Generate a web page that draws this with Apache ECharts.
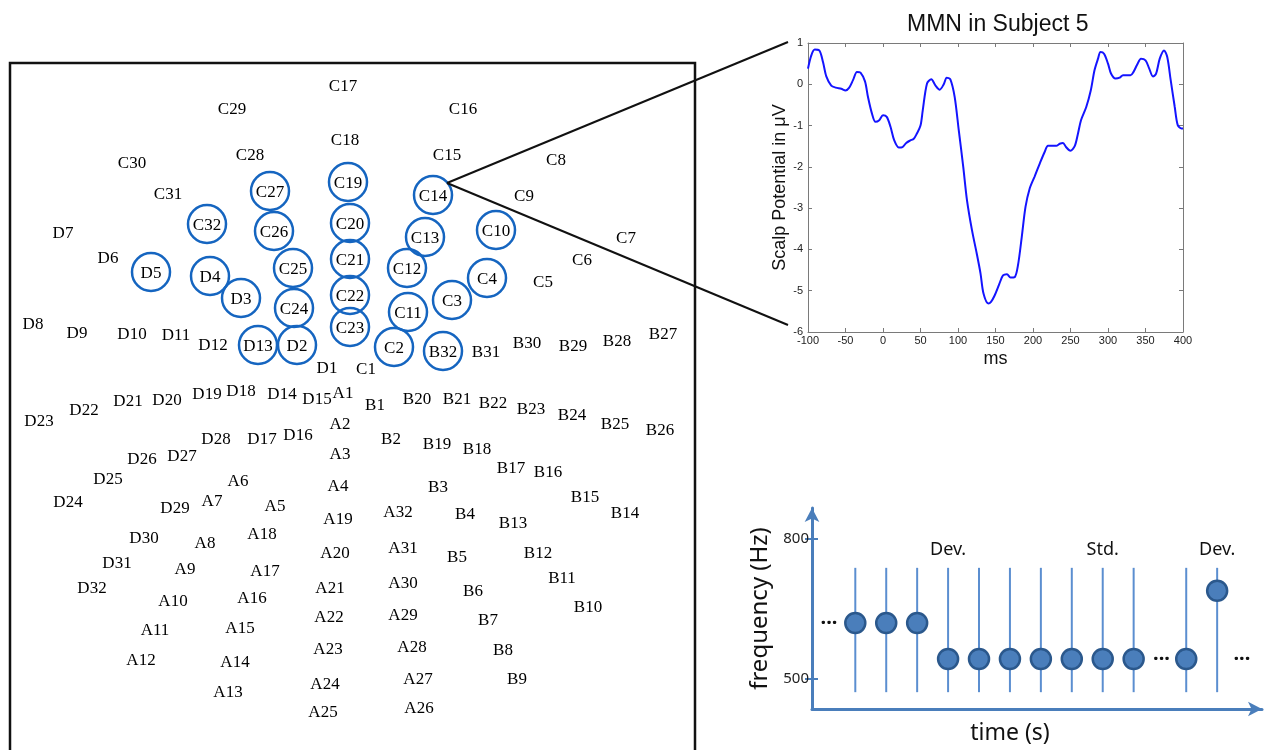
<!DOCTYPE html>
<html><head><meta charset="utf-8">
<script src="https://cdn.jsdelivr.net/npm/echarts@6/dist/echarts.min.js"></script>
<style>html,body{margin:0;padding:0;background:#fff}#c{width:1266px;height:750px}</style>
</head><body><div id="c"></div>
<script>
// ---------- Electrode layout (positions) ----------
const groupA_names = ['A1','A2','A3','A4','A5','A6','A7','A8','A9','A10','A11','A12','A13','A14','A15','A16','A17','A18','A19','A20','A21','A22','A23','A24','A25','A26','A27','A28','A29','A30','A31','A32'];
const groupA_x = [343,340,340,338,275,238,212,205,185,173,155,141,228,235,240,252,265,262,338,335,330,329,328,325,323,419,418,412,403,403,403,398];
const groupA_y = [392,423,453,485,505,480,500,542,568,600,629,659,691,661,627,597,570,533,518,552,587,616,648,683,711,707,678,646,614,582,547,511];

const groupB_names = ['B1','B2','B3','B4','B5','B6','B7','B8','B9','B10','B11','B12','B13','B14','B15','B16','B17','B18','B19','B20','B21','B22','B23','B24','B25','B26','B27','B28','B29','B30','B31','B32'];
const groupB_x = [375,391,438,465,457,473,488,503,517,588,562,538,513,625,585,548,511,477,437,417,457,493,531,572,615,660,663,617,573,527,486,443];
const groupB_y = [404,438,486,513,556,590,619,649,678,606,577,552,522,512,496,471,467,448,443,398,398,402,408,414,423,429,333,340,345,342,351,351];

const groupC_names = ['C1','C2','C3','C4','C5','C6','C7','C8','C9','C10','C11','C12','C13','C14','C15','C16','C17','C18','C19','C20','C21','C22','C23','C24','C25','C26','C27','C28','C29','C30','C31','C32'];
const groupC_x = [366,394,452,487,543,582,626,556,524,496,408,407,425,433,447,463,343,345,348,350,350,350,350,294,293,274,270,250,232,132,168,207];
const groupC_y = [368,347,300,278,281,259,237,159,195,230,312,268,237,195,154,108,85,139,182,223,259,295,327,308,268,231,191,154,108,162,193,224];

const groupD_names = ['D1','D2','D3','D4','D5','D6','D7','D8','D9','D10','D11','D12','D13','D14','D15','D16','D17','D18','D19','D20','D21','D22','D23','D24','D25','D26','D27','D28','D29','D30','D31','D32'];
const groupD_x = [327,297,241,210,151,108,63,33,77,132,176,213,258,282,317,298,262,241,207,167,128,84,39,68,108,142,182,216,175,144,117,92];
const groupD_y = [367,345,298,276,272,257,232,323,332,333,334,344,345,393,398,434,438,390,393,399,400,409,420,501,478,458,455,438,507,537,562,587];

const circledElectrodes = ['C27','C19','C14','C32','C26','C20','C13','C10','D5','D4','C25','C21','C12','C4','D3','C22','C3','C24','C11','C23','D13','D2','C2','B32'];

// ---------- MMN in Subject 5 ----------
const mmnTime = [-100,-95.6,-91,-85,-80,-75.6,-69,-63,-55.6,-50,-45,-40,-34.7,-30,-24,-20,-14.7,-10,-5,0,5,10,15,21,26,31,36.4,41,45,50,53,58.7,64.4,70,75.6,81,85,89.8,95.6,101,107,112,118.7,125,130,134,140.4,144,149,155,160,165.3,170,175.6,180,185,190,195.5,202,209,215.5,220,225,231,235.6,240,244,249.8,255.6,260,264,271,277,282,286.7,290,294.7,300,304,310,315.5,320,330,334,339,344,350,355,360,364,369,374.7,379,383.6,389,393,398,400];
const mmnValue = [0.38,0.70,0.84,0.82,0.54,0.19,-0.03,-0.08,-0.11,-0.15,-0.08,0.10,0.30,0.28,0.07,-0.31,-0.71,-0.91,-0.87,-0.75,-0.79,-1.03,-1.36,-1.53,-1.52,-1.42,-1.36,-1.32,-1.20,-1.00,-0.63,0.02,0.12,-0.03,-0.13,0.00,0.16,0.12,-0.31,-1.11,-2.00,-2.81,-3.54,-4.10,-4.58,-5.07,-5.31,-5.27,-5.11,-4.84,-4.63,-4.60,-4.68,-4.67,-4.38,-3.70,-2.97,-2.53,-2.24,-1.92,-1.64,-1.49,-1.49,-1.49,-1.44,-1.42,-1.52,-1.61,-1.50,-1.19,-0.87,-0.55,-0.15,0.34,0.62,0.78,0.74,0.50,0.26,0.14,0.16,0.22,0.22,0.30,0.48,0.62,0.58,0.38,0.19,0.25,0.62,0.82,0.66,0.10,-0.55,-0.99,-1.07,-1.07];
const mmnTicksX = [-100,400,50];
const mmnTicksY = [-6,1,1];

// ---------- Oddball stimulus sequence ----------
const toneTime = [1.4,2.4,3.4,4.4,5.4,6.4,7.4,8.4,9.4,10.4,12.1,13.1];
const toneFreq = [620,620,620,543,543,543,543,543,543,543,543,689];
const stemRange = [472,738];
const freqTicks = [500,800];
const toneLabels = [['Dev.',4.4],['Std.',9.4],['Dev.',13.1]];
const toneLabelFreq = 777;
const ellipsisPos = [[0.55,620],[11.3,543],[13.9,543]];

// ---------- build ----------
function pack(names, xs, ys){ return names.map((n,i)=>[xs[i], ys[i], n]); }
const electrodes = [].concat(
  pack(groupA_names, groupA_x, groupA_y),
  pack(groupB_names, groupB_x, groupB_y),
  pack(groupC_names, groupC_x, groupC_y),
  pack(groupD_names, groupD_x, groupD_y));
const circledData = electrodes.filter(e => circledElectrodes.indexOf(e[2]) >= 0);

const gray = '#7a7a7a';
const blueAx = '#4a7ebb';
const chart = echarts.init(document.getElementById('c'), null, {renderer:'canvas'});
const option = {
  backgroundColor: '#ffffff',
  animation: false,
  title: {
    text: 'MMN in Subject 5', left: 902, top: 8,
    textStyle: {fontFamily: 'Liberation Sans', fontSize: 23, fontWeight: 'normal', color: '#111'}
  },
  grid: [
    {left: 10, top: 63, width: 685, height: 700, outerBoundsMode: 'none', show: true, borderColor: '#111', borderWidth: 2.5, backgroundColor: 'transparent'},
    {left: 808, top: 43, width: 375, height: 289, outerBoundsMode: 'none'},
    {left: 812, top: 508, width: 450, height: 201, outerBoundsMode: 'none'}
  ],
  xAxis: [
    {gridIndex: 0, type: 'value', min: 10, max: 695, show: false},
    {gridIndex: 1, type: 'value', min: mmnTicksX[0], max: mmnTicksX[1], interval: mmnTicksX[2],
      axisLine: {onZero: false, lineStyle: {color: gray, width: 1}},
      axisTick: {inside: true, length: 4, lineStyle: {color: gray}},
      axisLabel: {color: '#222', fontSize: 11, fontFamily: 'Liberation Sans', margin: 3},
      splitLine: {show: false},
      name: 'ms', nameLocation: 'middle', nameGap: 18,
      nameTextStyle: {fontFamily: 'Liberation Sans', fontSize: 18, color: '#111'}},
    {gridIndex: 1, type: 'value', position: 'top', min: mmnTicksX[0], max: mmnTicksX[1], interval: mmnTicksX[2],
      axisLine: {onZero: false, lineStyle: {color: gray, width: 1}},
      axisTick: {inside: true, length: 4, lineStyle: {color: gray}},
      axisLabel: {show: false}, splitLine: {show: false}},
    {gridIndex: 2, type: 'value', min: 0, max: 14.55,
      axisLine: {onZero: false, symbol: ['none','arrow'], symbolSize: [11, 14], lineStyle: {color: blueAx, width: 3}},
      axisTick: {show: false}, axisLabel: {show: false}, splitLine: {show: false},
      name: 'time (s)', nameLocation: 'middle', nameGap: 13,
      nameTextStyle: {fontFamily: 'Noto Sans', fontSize: 23, color: '#111', padding: [0, 54, 0, 0]}}
  ],
  yAxis: [
    {gridIndex: 0, type: 'value', min: 63, max: 763, inverse: true, show: false},
    {gridIndex: 1, type: 'value', min: mmnTicksY[0], max: mmnTicksY[1], interval: mmnTicksY[2],
      axisLine: {show: true, onZero: false, lineStyle: {color: gray, width: 1}},
      axisTick: {show: true, inside: true, length: 4, lineStyle: {color: gray}},
      axisLabel: {color: '#222', fontSize: 11, fontFamily: 'Liberation Sans', margin: 5},
      splitLine: {show: false},
      name: 'Scalp Potential in \u03bcV', nameLocation: 'middle', nameGap: 19, nameRotate: 90,
      nameTextStyle: {fontFamily: 'Liberation Sans', fontSize: 18, color: '#111'}},
    {gridIndex: 1, type: 'value', position: 'right', min: mmnTicksY[0], max: mmnTicksY[1], interval: mmnTicksY[2],
      axisLine: {show: true, onZero: false, lineStyle: {color: gray, width: 1}},
      axisTick: {show: true, inside: true, length: 4, lineStyle: {color: gray}},
      axisLabel: {show: false}, splitLine: {show: false}},
    {gridIndex: 2, type: 'value', position: 'left', min: 436, max: 866,
      axisLine: {show: true, onZero: false, symbol: ['none','arrow'], symbolSize: [11, 14], lineStyle: {color: blueAx, width: 3}},
      axisTick: {show: true, customValues: freqTicks, length: 7, lineStyle: {color: blueAx, width: 2}},
      axisLabel: {show: true, customValues: freqTicks, color: '#222', fontSize: 15, fontFamily: 'Noto Sans', margin: 3},
      splitLine: {show: false},
      name: 'frequency (Hz)', nameLocation: 'middle', nameGap: 40, nameRotate: 90,
      nameTextStyle: {fontFamily: 'Noto Sans', fontSize: 24, color: '#111'}},
    {gridIndex: 2, type: 'value', position: 'left', offset: 0, min: 436, max: 866,
      axisLine: {show: false, onZero: false},
      axisTick: {show: true, inside: true, customValues: freqTicks, length: 6, lineStyle: {color: blueAx, width: 2}},
      axisLabel: {show: false}, splitLine: {show: false}}
  ],
  series: [
    {type: 'scatter', xAxisIndex: 0, yAxisIndex: 0, data: circledData, symbol: 'circle', symbolSize: 38,
      itemStyle: {opacity: 1, color: 'rgba(255,255,255,0)', borderColor: '#1565c0', borderWidth: 2.5}, silent: true, z: 3},
    {type: 'scatter', xAxisIndex: 0, yAxisIndex: 0, data: electrodes, symbolSize: 0, silent: true, z: 4,
      itemStyle: {opacity: 1},
      label: {show: true, position: 'inside', formatter: p => p.data[2], offset: [0, 1.5],
        fontFamily: 'Liberation Serif', fontSize: 17, color: '#000'}},
    {type: 'line', xAxisIndex: 1, yAxisIndex: 1, data: mmnTime.map((t,i)=>[t, mmnValue[i]]),
      showSymbol: false, smooth: 0.3, lineStyle: {color: '#1414ff', width: 2}},
    {type: 'custom', xAxisIndex: 3, yAxisIndex: 3, data: toneTime.map(t=>[t, stemRange[0], stemRange[1]]),
      renderItem: function(params, api){
        const a = api.coord([api.value(0), api.value(1)]);
        const b = api.coord([api.value(0), api.value(2)]);
        return {type: 'line', shape: {x1: a[0], y1: a[1], x2: b[0], y2: b[1]}, style: {stroke: '#5b8ed0', lineWidth: 2}};
      }, z: 2},
    {type: 'scatter', xAxisIndex: 3, yAxisIndex: 3, data: toneTime.map((t,i)=>[t, toneFreq[i]]),
      symbolSize: 20, itemStyle: {opacity: 1, color: '#4a7ebb', borderColor: '#2b588c', borderWidth: 2.5}, z: 3},
    {type: 'scatter', xAxisIndex: 3, yAxisIndex: 3, data: toneLabels.map(d=>[d[1], toneLabelFreq, d[0]]),
      symbolSize: 0, itemStyle: {opacity: 1}, label: {show: true, position: 'inside', formatter: p => p.data[2],
        fontFamily: 'Noto Sans', fontSize: 18, color: '#111'}},
    {type: 'scatter', xAxisIndex: 3, yAxisIndex: 3, data: ellipsisPos,
      symbolSize: 0, itemStyle: {opacity: 1}, label: {show: true, position: 'inside', formatter: '...', offset: [0, -5],
        fontFamily: 'Noto Sans', fontSize: 20, fontWeight: 'bold', color: '#111'}}
  ]
};
chart.setOption(option);

// connector lines from C14 to the MMN panel
const c14 = electrodes.find(e => e[2] === 'C14');
const s = chart.convertToPixel({xAxisIndex: 0, yAxisIndex: 0}, [c14[0], c14[1]]);
const pTop = chart.convertToPixel({xAxisIndex: 1, yAxisIndex: 1}, [mmnTicksX[0], mmnTicksY[1]]);
const pBot = chart.convertToPixel({xAxisIndex: 1, yAxisIndex: 1}, [mmnTicksX[0], mmnTicksY[0]]);
const start = [s[0] + 14, s[1] - 12];
chart.setOption({graphic: [
  {type: 'line', shape: {x1: start[0], y1: start[1], x2: pTop[0] - 20, y2: pTop[1] - 1}, style: {stroke: '#111', lineWidth: 2}, z: 10},
  {type: 'line', shape: {x1: start[0], y1: start[1], x2: pBot[0] - 20, y2: pBot[1] - 7}, style: {stroke: '#111', lineWidth: 2}, z: 10}
]});
</script></body></html>
